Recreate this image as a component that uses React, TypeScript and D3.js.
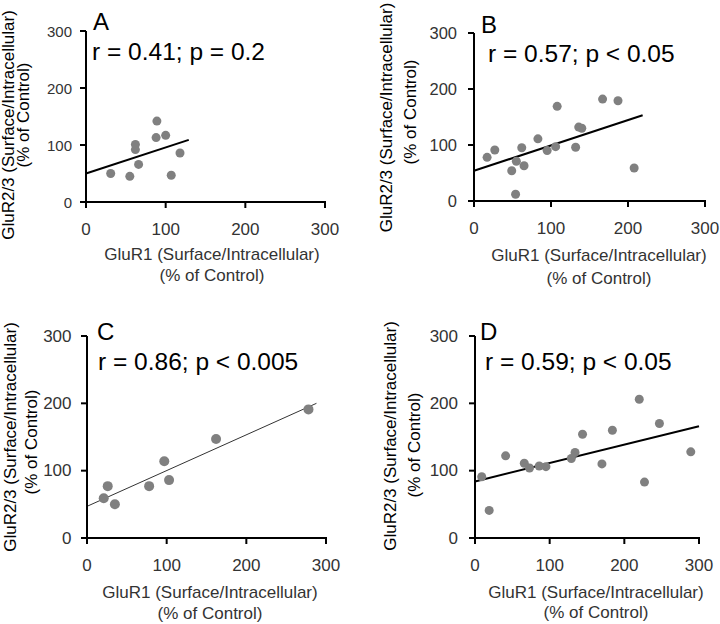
import React from "react";
import * as d3 from "d3";

// ---- Data ----
const panelIds = ["A", "B", "C", "D"];
const statsLabels = ["r = 0.41; p = 0.2", "r = 0.57; p < 0.05", "r = 0.86; p < 0.005", "r = 0.59; p < 0.05"];
const tickValues = [0, 100, 200, 300];
const xTitleLines = ["GluR1 (Surface/Intracellular)", "(% of Control)"];
const yTitleLines = ["GluR2/3 (Surface/Intracellular)", "(% of Control)"];

const xA = [31, 55, 62, 62, 66, 89, 88, 100, 118, 107];
const yA = [50, 45, 101, 92, 66, 142, 113, 117, 86, 47];
const fitA = [0, 50, 129, 109];

const xB = [17, 27, 49, 54, 55, 62, 65, 83, 95, 106, 108, 132, 136, 140, 167, 187, 208];
const yB = [78, 91, 54, 12, 71, 95, 63, 111, 90, 97, 169, 96, 132, 130, 182, 179, 59];
const fitB = [0, 54, 219, 153];

const xC = [21, 26, 35, 78, 97, 103, 162, 278];
const yC = [59, 77, 50, 77, 114, 86, 147, 191];
const fitC = [0, 47, 288, 200];

const xD = [9, 19, 41, 66, 73, 86, 95, 129, 134, 144, 170, 184, 220, 227, 247, 289];
const yD = [91, 41, 122, 111, 104, 107, 106, 118, 127, 154, 110, 160, 206, 83, 170, 128];
const fitD = [0, 84, 300, 166];

// ---- Layout (pixels) ----
const layouts = [
  { x0: 86, x1: 325, yT: 31, yB: 202, yTickGap: 14, yTickFont: 15, xTickFont: 17,
    letter: [93, 30], stats: [92, 60], xt: [212, 260, 281], yt: [[14, 125], [29, 115]], r: 4.5, fitW: 2, fitC: "#000" },
  { x0: 474, x1: 705, yT: 33, yB: 201, yTickGap: 17, yTickFont: 16.5, xTickFont: 17,
    letter: [481, 33], stats: [488, 62], xt: [599, 261, 284], yt: [[391.6, 117.5], [415.6, 112]], r: 4.5, fitW: 2, fitC: "#000" },
  { x0: 87, x1: 326, yT: 336, yB: 538, yTickGap: 15.5, yTickFont: 17, xTickFont: 17,
    letter: [97, 340], stats: [98, 370], xt: [210, 598, 619], yt: [[15.5, 437], [37, 442]], r: 5, fitW: 1, fitC: "#333" },
  { x0: 475, x1: 699, yT: 336, yB: 538, yTickGap: 17, yTickFont: 17, xTickFont: 17,
    letter: [480, 340], stats: [485, 370], xt: [596, 598, 618], yt: [[395.6, 436], [419.6, 445]], r: 4.5, fitW: 2, fitC: "#000" },
];

const xs = [xA, xB, xC, xD];
const ys = [yA, yB, yC, yD];
const fits = [fitA, fitB, fitC, fitD];

const FONT = "Arial, 'Liberation Sans', Helvetica, sans-serif";
const TICK_COLOR = "#333";

function Panel({ i }: { i: number }) {
  const L = layouts[i];
  const x = d3.scaleLinear().domain([0, 300]).range([L.x0, L.x1]);
  const y = d3.scaleLinear().domain([0, 300]).range([L.yB, L.yT]);
  const f = fits[i];
  const line = d3.line<number[]>().x((d) => x(d[0])).y((d) => y(d[1]));
  const fitPath = line([[f[0], f[1]], [f[2], f[3]]]) || "";
  const tick = 6;
  return (
    <g>
      {/* regression line */}
      <path d={fitPath} stroke={L.fitC} strokeWidth={L.fitW} fill="none" />
      {/* points */}
      {xs[i].map((v, k) => (
        <circle key={k} cx={x(v)} cy={y(ys[i][k])} r={L.r} fill="#808080" />
      ))}
      {/* axes */}
      <line x1={x(0)} x2={x(0)} y1={y(300)} y2={y(0)} stroke="#000" strokeWidth={2} />
      <line x1={x(0) - tick} x2={x(300) + 1} y1={y(0)} y2={y(0)} stroke="#000" strokeWidth={2} />
      {tickValues.map((t) => (
        <g key={"y" + t}>
          <line x1={x(0) - tick} x2={x(0)} y1={y(t)} y2={y(t)} stroke="#000" strokeWidth={2} />
          <text x={x(0) - L.yTickGap} y={y(t)} textAnchor="end" dominantBaseline="central"
            fontSize={L.yTickFont} fill={TICK_COLOR} fontFamily={FONT}>{t}</text>
        </g>
      ))}
      {tickValues.map((t) => (
        <g key={"x" + t}>
          <line x1={x(t)} x2={x(t)} y1={y(0)} y2={y(0) + tick} stroke="#000" strokeWidth={2} />
          <text x={x(t)} y={y(0) + 33} textAnchor="middle"
            fontSize={L.xTickFont} fill={TICK_COLOR} fontFamily={FONT}>{t}</text>
        </g>
      ))}
      {/* axis titles */}
      {xTitleLines.map((s, k) => (
        <text key={"xt" + k} x={L.xt[0]} y={L.xt[1 + k]} textAnchor="middle" fontSize={17}
          fill={TICK_COLOR} fontFamily={FONT}>{s}</text>
      ))}
      {yTitleLines.map((s, k) => (
        <text key={"yt" + k} transform={`translate(${L.yt[k][0]},${L.yt[k][1]}) rotate(-90)`}
          textAnchor="middle" fontSize={17} fill="#000" fontFamily={FONT}>{s}</text>
      ))}
      {/* annotations */}
      <text x={L.letter[0]} y={L.letter[1]} fontSize={24} fill="#000" fontFamily={FONT}>{panelIds[i]}</text>
      <text x={L.stats[0]} y={L.stats[1]} fontSize={24.5} fill="#000" fontFamily={FONT}>{statsLabels[i]}</text>
    </g>
  );
}

export default function App() {
  return (
    <svg width={720} height={624} viewBox="0 0 720 624"
      style={{ position: "absolute", left: 0, top: 0, background: "#fff" }}>
      <rect width={720} height={624} fill="#fff" />
      {panelIds.map((_, i) => (
        <Panel key={i} i={i} />
      ))}
    </svg>
  );
}
